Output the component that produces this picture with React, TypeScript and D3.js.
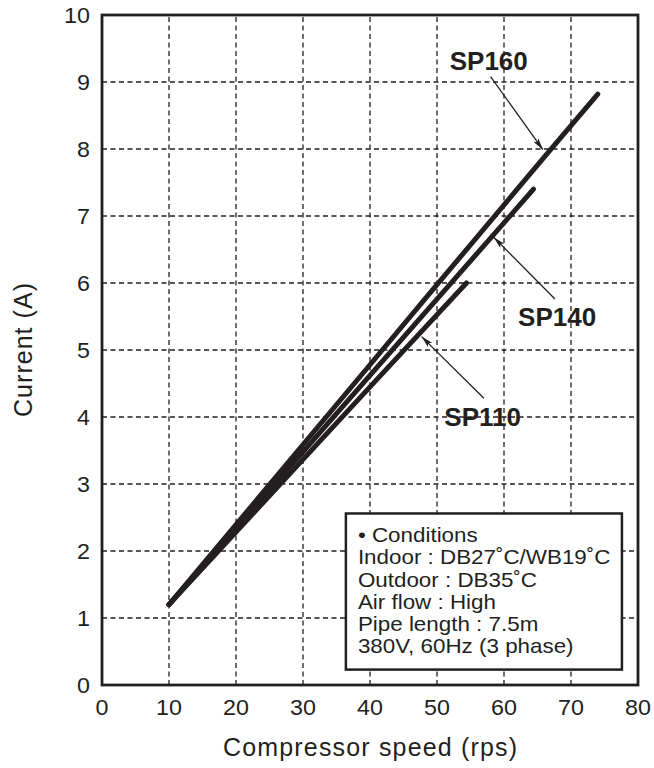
import { useRef, useEffect } from 'react';
import * as d3 from 'd3';

// values
const xTicks = [0, 10, 20, 30, 40, 50, 60, 70, 80];
const yTicks = [0, 1, 2, 3, 4, 5, 6, 7, 8, 9, 10];

const seriesNames = ['SP160', 'SP140', 'SP110'];
const sp160Speed = [10, 40, 66, 74];
const sp160Current = [1.2, 4.78, 7.88, 8.82];
const sp140Speed = [10, 40, 64.4];
const sp140Current = [1.2, 4.62, 7.4];
const sp110Speed = [10, 40, 54.4];
const sp110Current = [1.2, 4.45, 6.0];

// label position (x, y) and arrow from -> to, in data units
const labelAt = [[51.9, 9.18], [62.1, 5.36], [51.1, 3.87]];
const arrowFrom = [[58.0, 9.08], [67.6, 5.76], [57.0, 4.28]];
const arrowTo = [[65.8, 7.99], [58.5, 6.68], [47.7, 5.2]];

const conditionLines = [
    '• Conditions',
    'Indoor : DB27˚C/WB19˚C',
    'Outdoor : DB35˚C',
    'Air flow : High',
    'Pipe length : 7.5m',
    '380V, 60Hz (3 phase)',
];
// legend box corners in data units
const boxX = [36.4, 77.6];
const boxY = [2.56, 0.23];

const FONT = '"Liberation Sans", Arial, Helvetica, sans-serif';

const App = () => {
    const svgRef = useRef<SVGSVGElement | null>(null);

    useEffect(() => {
        const svgElement = svgRef.current;
        if (!svgElement) return;

        const width = 654;
        const height = 768;
        const margin = { top: 15, right: 16, bottom: 83, left: 102 };

        const svg = d3.select(svgElement)
            .attr('width', width)
            .attr('height', height);

        svg.selectAll('*').remove();

        const x = d3.scaleLinear()
            .domain([0, 80])
            .range([margin.left, width - margin.right]);

        const y = d3.scaleLinear()
            .domain([0, 10])
            .range([height - margin.bottom, margin.top]);

        const ink = '#231f20';

        // dashed grid
        const grid = svg.append('g')
            .attr('stroke', ink)
            .attr('stroke-width', 1.3)
            .attr('stroke-dasharray', '5,3.5');

        grid.selectAll('.vgrid')
            .data(xTicks.slice(1, -1))
            .enter()
            .append('line')
            .attr('x1', d => x(d))
            .attr('x2', d => x(d))
            .attr('y1', y(0))
            .attr('y2', y(10));

        grid.selectAll('.hgrid')
            .data(yTicks.slice(1, -1))
            .enter()
            .append('line')
            .attr('x1', x(0))
            .attr('x2', x(80))
            .attr('y1', d => y(d))
            .attr('y2', d => y(d));

        // frame
        svg.append('rect')
            .attr('x', x(0))
            .attr('y', y(10))
            .attr('width', x(80) - x(0))
            .attr('height', y(0) - y(10))
            .attr('fill', 'none')
            .attr('stroke', ink)
            .attr('stroke-width', 2.8);

        // tick labels (the scan is a little stretched sideways)
        svg.selectAll('.xlabel')
            .data(xTicks)
            .enter()
            .append('text')
            .attr('transform', d => `translate(${x(d)}, ${y(0) + 30}) scale(1.06, 1)`)
            .attr('text-anchor', 'middle')
            .style('font-family', FONT)
            .style('font-size', '22px')
            .style('fill', ink)
            .text(d => d);

        svg.selectAll('.ylabel')
            .data(yTicks)
            .enter()
            .append('text')
            .attr('transform', d => `translate(${x(0) - 12}, ${y(d) + 8}) scale(1.06, 1)`)
            .attr('text-anchor', 'end')
            .style('font-family', FONT)
            .style('font-size', '22px')
            .style('fill', ink)
            .text(d => d);

        // axis titles
        svg.append('text')
            .attr('x', (x(0) + x(80)) / 2)
            .attr('y', y(0) + 71)
            .attr('text-anchor', 'middle')
            .attr('textLength', 294)
            .style('font-family', FONT)
            .style('font-size', '25px')
            .style('fill', ink)
            .text('Compressor speed (rps)');

        svg.append('text')
            .attr('transform', `translate(32, ${(y(0) + y(10)) / 2}) rotate(-90)`)
            .attr('text-anchor', 'middle')
            .attr('textLength', 134)
            .style('font-family', FONT)
            .style('font-size', '25px')
            .style('fill', ink)
            .text('Current (A)');

        // series
        const series = [
            sp160Speed.map((s, i) => [s, sp160Current[i]]),
            sp140Speed.map((s, i) => [s, sp140Current[i]]),
            sp110Speed.map((s, i) => [s, sp110Current[i]]),
        ];

        const line = d3.line<number[]>()
            .x(d => x(d[0]))
            .y(d => y(d[1]))
            .curve(d3.curveMonotoneX);

        svg.selectAll('.series')
            .data(series)
            .enter()
            .append('path')
            .attr('fill', 'none')
            .attr('stroke', ink)
            .attr('stroke-width', 5)
            .attr('stroke-linecap', 'round')
            .attr('d', d => line(d) as string);

        // annotation arrows
        const defs = svg.append('defs');
        defs.append('marker')
            .attr('id', 'arrowhead')
            .attr('viewBox', '0 0 12 6')
            .attr('refX', 12)
            .attr('refY', 3)
            .attr('markerWidth', 12)
            .attr('markerHeight', 6)
            .attr('markerUnits', 'userSpaceOnUse')
            .attr('orient', 'auto')
            .append('path')
            .attr('d', 'M0,0 L12,3 L0,6 L3,3 Z')
            .attr('fill', ink);

        seriesNames.forEach((name, i) => {
            svg.append('line')
                .attr('x1', x(arrowFrom[i][0]))
                .attr('y1', y(arrowFrom[i][1]))
                .attr('x2', x(arrowTo[i][0]))
                .attr('y2', y(arrowTo[i][1]))
                .attr('stroke', ink)
                .attr('stroke-width', 1.3)
                .attr('marker-end', 'url(#arrowhead)');

            svg.append('text')
                .attr('x', x(labelAt[i][0]))
                .attr('y', y(labelAt[i][1]))
                .style('font-family', FONT)
                .style('font-weight', 'bold')
                .style('font-size', '26px')
                .style('fill', ink)
                .text(name);
        });

        // conditions box
        svg.append('rect')
            .attr('x', x(boxX[0]))
            .attr('y', y(boxY[0]))
            .attr('width', x(boxX[1]) - x(boxX[0]))
            .attr('height', y(boxY[1]) - y(boxY[0]))
            .attr('fill', '#fff')
            .attr('stroke', ink)
            .attr('stroke-width', 2.5);

        svg.selectAll('.cond')
            .data(conditionLines)
            .enter()
            .append('text')
            .attr('transform', (_, i) => `translate(${x(boxX[0]) + 12}, ${y(boxY[0]) + 28.5 + i * 22.3}) scale(1.12, 1)`)
            .style('font-family', FONT)
            .style('font-size', '20px')
            .style('fill', ink)
            .text(d => d);
    }, []);

    return (
        <svg ref={svgRef} style={{ position: 'absolute', left: 0, top: 0, background: '#fff' }}></svg>
    );
};

export default App;
